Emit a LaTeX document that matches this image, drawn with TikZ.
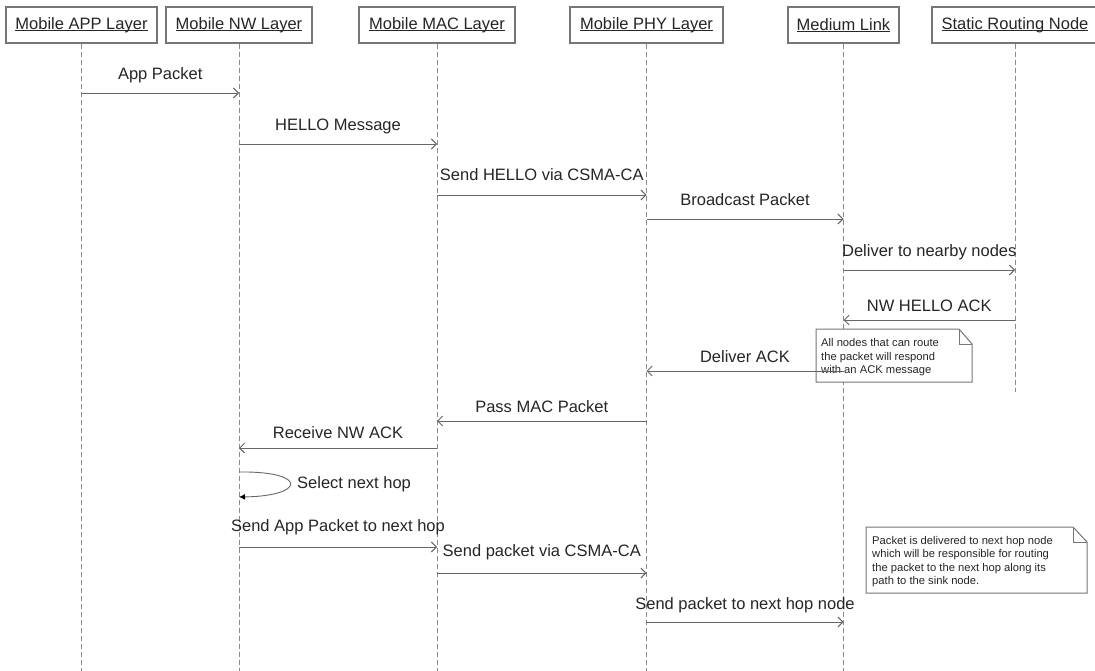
\documentclass[tikz,border=0pt]{standalone}
\usepackage{fontspec}
\setmainfont{Liberation Sans}
\usetikzlibrary{arrows.meta}
\definecolor{boxline}{HTML}{767676}
\definecolor{lifeln}{HTML}{8A8A8A}
\definecolor{msgln}{HTML}{666666}
\definecolor{ink}{HTML}{262626}
% underlined header caption, rule just under the baseline
\newcommand\hdrtext[1]{\setbox0\hbox{#1}\rlap{\rule[-1.8bp]{\wd0}{1.1bp}}\box0}
\begin{document}
\begin{tikzpicture}[x=1bp,y=-1bp,
  every node/.style={text=ink},
  header/.style={draw=boxline, line width=1.3bp, fill=white, minimum height=36bp,
    inner sep=0pt, font=\fontsize{16.5bp}{19bp}\selectfont},
  lifeline/.style={draw=lifeln, line width=0.9bp, dash pattern=on 5bp off 3bp},
  msg/.style={draw=msgln, line width=0.9bp, -{Straight Barb[length=5bp,width=10bp]}},
  selfmsg/.style={draw=msgln, line width=0.9bp, -{Latex[length=6bp,width=6bp,fill=black,color=black]}},
  lbl/.style={font=\fontsize{16.5bp}{19bp}\selectfont, inner sep=0pt},
  notebox/.style={draw=boxline, line width=1bp, fill=white, line join=miter},
  notetxt/.style={font=\fontsize{11.2bp}{13.5bp}\selectfont, align=left,
    inner sep=0pt, anchor=north west},
]
\clip (0,0) rectangle (1095,671);
\fill[white] (0,0) rectangle (1095,671);

% participants
\node[header, minimum width=151bp] (app) at (81.5,25)  {\hdrtext{Mobile APP Layer}};
\node[header, minimum width=146bp] (nw)  at (239,25)   {\hdrtext{Mobile NW Layer}};
\node[header, minimum width=156bp] (mac) at (437,25)   {\hdrtext{Mobile MAC Layer}};
\node[header, minimum width=153bp] (phy) at (646.5,25) {\hdrtext{Mobile PHY Layer}};
\node[header, minimum width=111bp] (med) at (843.5,25) {\hdrtext{Medium Link}};
\node[header, minimum width=166bp] (srn) at (1015,25)  {\hdrtext{Static Routing Node}};

% lifeline ends
\coordinate (bottom) at (0,671);
\coordinate (srnend) at (0,392);

\draw[lifeline] (app.south) -- (app.south |- bottom);
\draw[lifeline] (nw.south)  -- (nw.south |- bottom);
\draw[lifeline] (mac.south) -- (mac.south |- bottom);
\draw[lifeline] (phy.south) -- (phy.south |- bottom);
\draw[lifeline] (med.south) -- (med.south |- bottom);
\draw[lifeline] (srn.south) -- (srn.south |- srnend);

% notes
\draw[notebox] (816,329) -- (959,329) -- (972,344) -- (972,382) -- (816,382) -- cycle;
\draw[boxline, line width=1bp] (959,329) -- (959,344) -- (972,344);
\node[notetxt] (note1) at (821,338.5) {All nodes that can route\\the packet will respond\\with an ACK message};

\draw[notebox] (866,527) -- (1073,527) -- (1087,542) -- (1087,593) -- (866,593) -- cycle;
\draw[boxline, line width=1bp] (1073,527) -- (1073,542) -- (1087,542);
\node[notetxt] (note2) at (872,536) {Packet is delivered to next hop node\\which will be responsible for routing\\the packet to the next hop along its\\path to the sink node.};

% message rows
\coordinate (m1)  at (0,93);
\coordinate (m2)  at (0,144);
\coordinate (m3)  at (0,195);
\coordinate (m4)  at (0,219);
\coordinate (m5)  at (0,270);
\coordinate (m6)  at (0,320);
\coordinate (m7)  at (0,371);
\coordinate (m8)  at (0,421);
\coordinate (m9)  at (0,448);
\coordinate (s1)  at (0,472);
\coordinate (s2)  at (0,497);
\coordinate (m11) at (0,547);
\coordinate (m12) at (0,573);
\coordinate (m13) at (0,622);

\draw[msg] (app |- m1) -- (nw |- m1)  node[lbl, midway, yshift=18bp] (l1) {App Packet};
\draw[msg] (nw |- m2)  -- (mac |- m2) node[lbl, midway, yshift=18bp] (l2) {HELLO Message};
\draw[msg] (mac |- m3) -- (phy |- m3) node[lbl, midway, yshift=20bp] (l3) {Send HELLO via CSMA-CA};
\draw[msg] (phy |- m4) -- (med |- m4) node[lbl, midway, yshift=19bp] (l4) {Broadcast Packet};
\draw[msg] (med |- m5) -- (srn |- m5) node[lbl, midway, yshift=18bp] (l5) {Deliver to nearby nodes};
\draw[msg] (srn |- m6) -- (med |- m6) node[lbl, midway, yshift=14bp] (l6) {NW HELLO ACK};
\draw[msg] (med |- m7) -- (phy |- m7) node[lbl, midway, yshift=14bp] (l7) {Deliver ACK};
\draw[msg] (phy |- m8) -- (mac |- m8) node[lbl, midway, yshift=14bp] (l8) {Pass MAC Packet};
\draw[msg] (mac |- m9) -- (nw |- m9)  node[lbl, midway, yshift=15bp] (l9) {Receive NW ACK};

% self call on the network layer
\draw[selfmsg] (nw |- s1) .. controls (308,471) and (306,496) .. (nw |- s2);
\node[lbl, anchor=west] (l10) at (297,484) {Select next hop};

\draw[msg] (nw |- m11)  -- (mac |- m11) node[lbl, midway, yshift=20bp] (l11) {Send App Packet to next hop};
\draw[msg] (mac |- m12) -- (phy |- m12) node[lbl, midway, yshift=21bp] (l12) {Send packet via CSMA-CA};
\draw[msg] (phy |- m13) -- (med |- m13) node[lbl, midway, yshift=17bp] (l13) {Send packet to next hop node};
\end{tikzpicture}
\end{document}
